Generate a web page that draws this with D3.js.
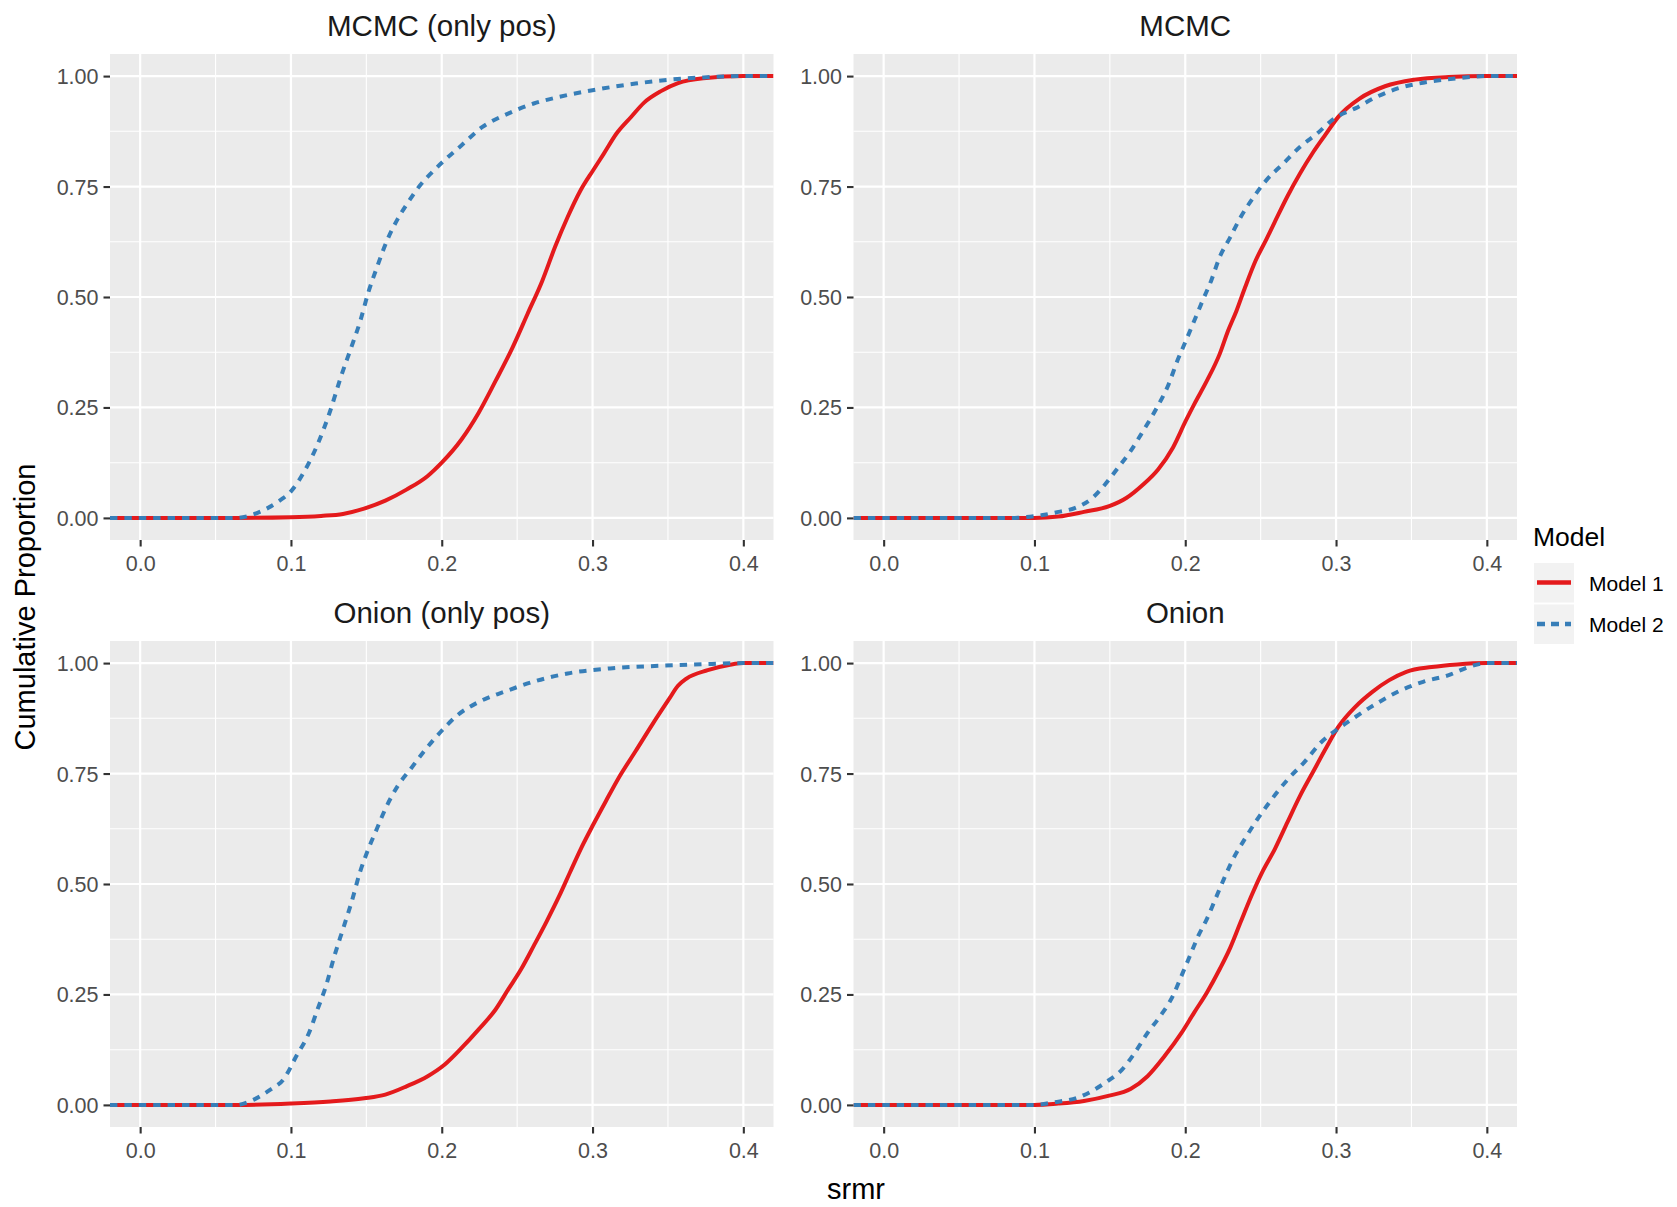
<!DOCTYPE html>
<html>
<head>
<meta charset="utf-8">
<script src="https://cdn.jsdelivr.net/npm/d3@7"></script>
<style>
  html, body { margin: 0; padding: 0; background: #ffffff; }
  svg text { font-family: "Liberation Sans", Arial, Helvetica, sans-serif; }
</style>
</head>
<body>
<svg id="chart" width="1677" height="1207"></svg>
<script>
// ---------------- DATA ----------------
const panelTitles = ["MCMC (only pos)", "MCMC", "Onion (only pos)", "Onion"];
const seriesNames = ["Model 1", "Model 2"];
const xTicks = [0.0, 0.1, 0.2, 0.3, 0.4];
const xTickLabels = ["0.0", "0.1", "0.2", "0.3", "0.4"];
const yTicks = [0, 0.25, 0.5, 0.75, 1];
const yTickLabels = ["0.00", "0.25", "0.50", "0.75", "1.00"];
const axisXTitle = "srmr";
const axisYTitle = "Cumulative Proportion";
const legendTitle = "Model";

// MCMC (only pos)
const mcmcPosModel1 = [[0.064,0],[0.100,0.0015],[0.120,0.0045],[0.1345,0.009],[0.1485,0.021],[0.1626,0.039],[0.1766,0.064],[0.1907,0.095],[0.200,0.125],[0.2132,0.178],[0.2245,0.238],[0.2357,0.31],[0.247,0.386],[0.2568,0.461],[0.2667,0.537],[0.2751,0.613],[0.2835,0.681],[0.292,0.741],[0.3004,0.787],[0.3074,0.824],[0.3159,0.870],[0.3257,0.908],[0.3342,0.940],[0.3454,0.966],[0.3567,0.984],[0.3735,0.995],[0.400,1]];
const mcmcPosModel2 = [[0.064,0],[0.075,0.008],[0.092,0.038],[0.100,0.06],[0.109,0.106],[0.1176,0.166],[0.126,0.242],[0.133,0.318],[0.140,0.386],[0.146,0.446],[0.151,0.507],[0.157,0.567],[0.164,0.630],[0.171,0.678],[0.178,0.716],[0.185,0.750],[0.1935,0.782],[0.202,0.810],[0.213,0.843],[0.227,0.885],[0.244,0.915],[0.261,0.938],[0.278,0.953],[0.300,0.968],[0.3285,0.983],[0.351,0.992],[0.3735,0.997],[0.400,1]];
// MCMC
const mcmcModel1 = [[0.100,0],[0.1159,0.003],[0.1328,0.0136],[0.1496,0.0265],[0.1609,0.045],[0.1721,0.0756],[0.182,0.1097],[0.1918,0.159],[0.2003,0.2194],[0.2059,0.257],[0.2143,0.31],[0.2228,0.3707],[0.2284,0.4236],[0.234,0.469],[0.2397,0.522],[0.2467,0.5825],[0.2537,0.630],[0.2594,0.670],[0.2678,0.728],[0.2762,0.780],[0.2847,0.827],[0.2931,0.868],[0.3015,0.9077],[0.3156,0.949],[0.3325,0.977],[0.3522,0.992],[0.3747,0.998],[0.400,1]];
const mcmcModel2 = [[0.085,0],[0.0934,0.0015],[0.1046,0.006],[0.1159,0.0136],[0.1271,0.0227],[0.1384,0.045],[0.1468,0.0756],[0.1553,0.113],[0.1637,0.151],[0.1721,0.197],[0.1806,0.246],[0.189,0.3026],[0.1947,0.355],[0.2003,0.40],[0.2059,0.4455],[0.2115,0.4917],[0.2172,0.537],[0.2228,0.59],[0.2298,0.635],[0.2368,0.681],[0.2453,0.726],[0.2537,0.764],[0.265,0.802],[0.2762,0.84],[0.2875,0.87],[0.2987,0.904],[0.3128,0.927],[0.3269,0.953],[0.3409,0.972],[0.3578,0.985],[0.3803,0.995],[0.400,1]];
// Onion (only pos)
const onionPosModel1 = [[0.064,0],[0.100,0.003],[0.126,0.0076],[0.1485,0.015],[0.1626,0.0234],[0.1766,0.042],[0.1907,0.065],[0.202,0.0915],[0.2132,0.129],[0.2245,0.171],[0.2357,0.216],[0.2442,0.262],[0.2526,0.307],[0.261,0.36],[0.2695,0.415],[0.278,0.4735],[0.285,0.526],[0.292,0.578],[0.3004,0.634],[0.3089,0.688],[0.3173,0.740],[0.3286,0.801],[0.3398,0.862],[0.351,0.920],[0.3565,0.948],[0.3623,0.965],[0.3764,0.984],[0.3904,0.9955],[0.400,1]];
const onionPosModel2 = [[0.064,0],[0.0754,0.012],[0.0866,0.035],[0.095,0.0575],[0.1035,0.110],[0.112,0.1634],[0.1176,0.216],[0.1232,0.269],[0.1288,0.337],[0.1345,0.398],[0.1401,0.458],[0.1457,0.526],[0.1513,0.579],[0.157,0.625],[0.1626,0.670],[0.171,0.723],[0.1795,0.761],[0.1879,0.799],[0.1992,0.844],[0.2104,0.882],[0.2245,0.912],[0.2414,0.935],[0.261,0.958],[0.2835,0.9766],[0.3117,0.988],[0.3454,0.994],[0.3792,0.998],[0.400,1]];
// Onion
const onionModel1 = [[0.100,0],[0.1159,0.003],[0.1328,0.009],[0.1496,0.021],[0.1637,0.036],[0.175,0.065],[0.1862,0.110],[0.1975,0.163],[0.2059,0.209],[0.2143,0.254],[0.2228,0.307],[0.2298,0.3555],[0.2368,0.4145],[0.2439,0.4735],[0.2509,0.526],[0.2594,0.579],[0.2678,0.64],[0.2762,0.70],[0.2847,0.7534],[0.2931,0.806],[0.3015,0.8555],[0.3128,0.901],[0.3241,0.935],[0.3353,0.9614],[0.3466,0.9803],[0.3634,0.991],[0.3803,0.997],[0.400,1]];
const onionModel2 = [[0.099,0],[0.1131,0.006],[0.130,0.018],[0.1468,0.05],[0.1581,0.08],[0.1665,0.118],[0.175,0.163],[0.1834,0.201],[0.1918,0.2466],[0.1975,0.292],[0.2031,0.3374],[0.2087,0.383],[0.2143,0.4206],[0.220,0.466],[0.2256,0.511],[0.2312,0.553],[0.2397,0.603],[0.2481,0.648],[0.2565,0.688],[0.2678,0.736],[0.279,0.776],[0.2903,0.8215],[0.3015,0.8517],[0.3128,0.878],[0.3269,0.9085],[0.3409,0.935],[0.3578,0.9577],[0.3747,0.9728],[0.3887,0.992],[0.400,1]];

const panelSeries = [
  [mcmcPosModel1, mcmcPosModel2],
  [mcmcModel1, mcmcModel2],
  [onionPosModel1, onionPosModel2],
  [onionModel1, onionModel2]
];

// ---------------- LAYOUT / STYLE ----------------
const colors = ["#E41A1C", "#377EB8"];
const dashes = [null, "7.4,7"];
const lineW = 4.0;
const panelW = 663.5, panelH = 486;
const panelPos = [[110, 54], [853.5, 54], [110, 641], [853.5, 641]];

const svg = d3.select("#chart");

const x = d3.scaleLinear().domain([-0.02, 0.42]).range([0, panelW]);
const y = d3.scaleLinear().domain([-0.05, 1.05]).range([panelH, 0]);
const xMinor = [0.05, 0.15, 0.25, 0.35];
const yMinor = [0.125, 0.375, 0.625, 0.875];

const line = d3.line().x(d => x(d[0])).y(d => y(d[1])).curve(d3.curveMonotoneX);

panelPos.forEach((p, i) => {
  const g = svg.append("g").attr("transform", `translate(${p[0]},${p[1]})`);
  g.append("rect").attr("width", panelW).attr("height", panelH).attr("fill", "#EBEBEB");

  // minor grid
  g.selectAll(".mx").data(xMinor).enter().append("line")
    .attr("x1", d => x(d)).attr("x2", d => x(d)).attr("y1", 0).attr("y2", panelH)
    .attr("stroke", "#ffffff").attr("stroke-width", 1.1);
  g.selectAll(".my").data(yMinor).enter().append("line")
    .attr("y1", d => y(d)).attr("y2", d => y(d)).attr("x1", 0).attr("x2", panelW)
    .attr("stroke", "#ffffff").attr("stroke-width", 1.1);
  // major grid
  g.selectAll(".Mx").data(xTicks).enter().append("line")
    .attr("x1", d => x(d)).attr("x2", d => x(d)).attr("y1", 0).attr("y2", panelH)
    .attr("stroke", "#ffffff").attr("stroke-width", 2.2);
  g.selectAll(".My").data(yTicks).enter().append("line")
    .attr("y1", d => y(d)).attr("y2", d => y(d)).attr("x1", 0).attr("x2", panelW)
    .attr("stroke", "#ffffff").attr("stroke-width", 2.2);

  // clip
  const cid = "clip" + i;
  g.append("clipPath").attr("id", cid).append("rect").attr("width", panelW).attr("height", panelH);

  const dom = x.domain();
  panelSeries[i].forEach((s, k) => {
    const pts = [[dom[0], 0]].concat(s, [[dom[1], 1]]);
    g.append("path").datum(pts)
      .attr("clip-path", `url(#${cid})`)
      .attr("d", line)
      .attr("fill", "none")
      .attr("stroke", colors[k])
      .attr("stroke-width", lineW)
      .attr("stroke-dasharray", dashes[k])
      .attr("stroke-linejoin", "round");
  });

  // axes
  const xAxis = d3.axisBottom(x).tickValues(xTicks).tickFormat((d, j) => xTickLabels[j]).tickSize(6.5).tickPadding(4);
  const gx = g.append("g").attr("transform", `translate(0,${panelH})`).call(xAxis);
  const yAxis = d3.axisLeft(y).tickValues(yTicks).tickFormat((d, j) => yTickLabels[j]).tickSize(6.5).tickPadding(5);
  const gy = g.append("g").call(yAxis);
  [gx, gy].forEach(a => {
    a.select(".domain").remove();
    a.selectAll(".tick line").attr("stroke", "#333333").attr("stroke-width", 2.1);
    a.selectAll(".tick text").attr("fill", "#4D4D4D").style("font-size", "21.5px")
      .style("font-family", '"Liberation Sans", Arial, sans-serif');
  });
  gx.selectAll(".tick text").attr("dy", "0.95em");
  gy.selectAll(".tick text").attr("dy", "0.35em");

  // strip title
  g.append("text").attr("x", panelW / 2).attr("y", -18)
    .attr("text-anchor", "middle").attr("fill", "#1A1A1A")
    .style("font-size", "29.5px").text(panelTitles[i]);
});

// axis titles
svg.append("text").attr("x", 856).attr("y", 1199).attr("text-anchor", "middle")
  .attr("fill", "#000000").style("font-size", "29px").text(axisXTitle);
svg.append("text").attr("transform", "translate(35,607) rotate(-90)").attr("text-anchor", "middle")
  .attr("fill", "#000000").style("font-size", "29px").text(axisYTitle);

// legend
const lg = svg.append("g");
lg.append("text").attr("x", 1533).attr("y", 546).attr("fill", "#000000")
  .style("font-size", "26.5px").text(legendTitle);
seriesNames.forEach((nm, k) => {
  const ky = 563 + k * 41.5;
  lg.append("rect").attr("x", 1534).attr("y", ky).attr("width", 40).attr("height", 39.5).attr("fill", "#F2F2F2");
  lg.append("line").attr("x1", 1537).attr("x2", 1571).attr("y1", ky + 19.5).attr("y2", ky + 19.5)
    .attr("stroke", colors[k]).attr("stroke-width", 4.4).attr("stroke-dasharray", dashes[k] ? "8,6" : null);
  lg.append("text").attr("x", 1589).attr("y", ky + 27.5).attr("fill", "#000000")
    .style("font-size", "21px").text(nm);
});
</script>
</body>
</html>
